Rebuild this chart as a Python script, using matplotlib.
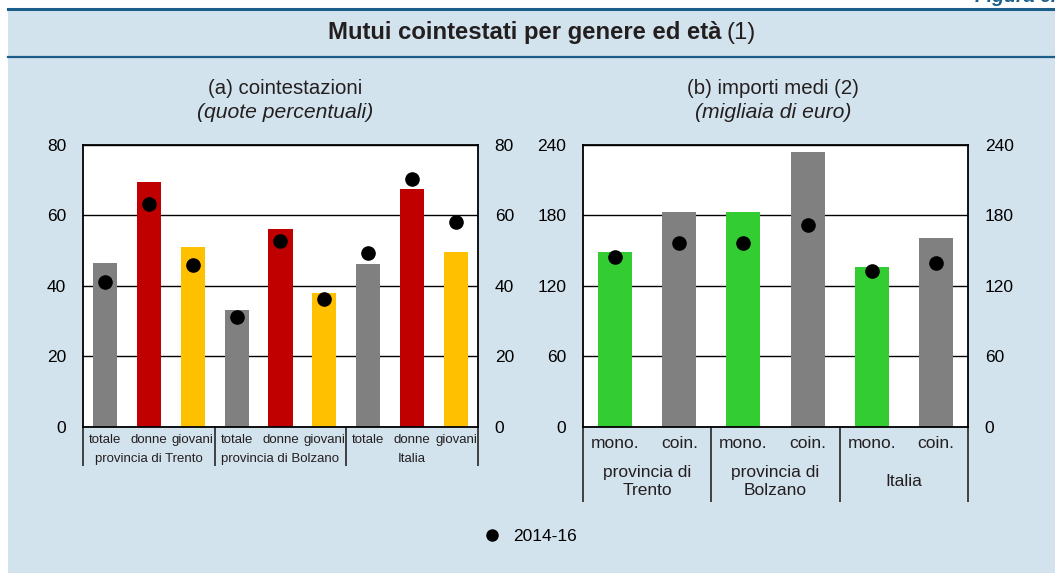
import matplotlib
matplotlib.use("Agg")
import matplotlib.pyplot as plt
from matplotlib.patches import Rectangle
from matplotlib.lines import Line2D

plt.rcParams['font.family'] = ['Liberation Sans', 'DejaVu Sans']

# panel (a): share of co-signed mortgages, per cent
quote_labels = ['totale', 'donne', 'giovani'] * 3
quote_groups = ['provincia di Trento', 'provincia di Bolzano', 'Italia']
quote_values = [46.4, 69.4, 51.0, 33.1, 56.1, 37.9, 46.1, 67.4, 49.6]
quote_2014_16 = [41.1, 63.2, 46.0, 31.2, 52.6, 36.2, 49.2, 70.4, 58.1]
quote_colors = ['#808080', '#C00000', '#FFC000'] * 3

# panel (b): average amounts, thousands of euro
importi_labels = ['mono.', 'coin.'] * 3
importi_groups = ['provincia di\nTrento', 'provincia di\nBolzano', 'Italia']
importi_values = [148.9, 182.8, 182.8, 233.8, 136.1, 160.8]
importi_2014_16 = [144.1, 156.0, 156.0, 171.8, 132.2, 139.5]
importi_colors = ['#33CC33', '#808080'] * 3

bg = '#D3E3ED'
navy = '#1B5E8A'
ink = '#231F20'
W, H = 1055, 573

fig = plt.figure(figsize=(W / 100, H / 100), dpi=100)
fig.patch.set_facecolor('white')

# light blue panel with the two dark rules of the header band
fig.add_artist(Rectangle((8 / W, 0), 1 - 8 / W, 1 - 8 / H, transform=fig.transFigure,
                         facecolor=bg, edgecolor='none', zorder=0))
fig.add_artist(Line2D([8 / W, 1], [1 - 8.5 / H] * 2, transform=fig.transFigure,
                      color=navy, linewidth=2.2))
fig.add_artist(Line2D([8 / W, 1], [1 - 56.5 / H] * 2, transform=fig.transFigure,
                      color=navy, linewidth=1.6))
fig.text(975 / W, 1 - 1.5 / H, 'Figura 6.', color=navy, fontsize=14, fontweight='bold',
         fontstyle='italic', ha='left', va='baseline')

fig.text(722 / W, 1 - 33 / H, 'Mutui cointestati per genere ed età', fontsize=17.2,
         fontweight='bold', ha='right', va='center', color=ink)
fig.text(727 / W, 1 - 33 / H, '(1)', fontsize=17.2, ha='left', va='center', color=ink)


def draw_panel(rect, values, dots, colors, labels, groups, ymax, step, width,
               lab_y, lab_size, grp_y, sep_y):
    ax = fig.add_axes(rect)
    ax.set_facecolor('white')
    x = list(range(len(values)))
    ax.bar(x, values, width=width, color=colors, zorder=2)
    ax.plot(x, dots, 'o', color='black', markersize=9.5, zorder=3, clip_on=False)
    ax.set_xlim(-0.5, len(values) - 0.5)
    ax.set_ylim(0, ymax)
    ax.set_yticks(range(0, ymax + 1, step))
    ax.yaxis.grid(True, color='black', linewidth=1)
    ax.set_axisbelow(True)
    ax.set_xticks([])
    ax.tick_params(axis='y', length=0, labelsize=12.5, labelright=True, pad=12)
    for sp in ax.spines.values():
        sp.set_linewidth(1.3)
        sp.set_color('black')

    # category labels under the axis, groups separated by vertical rules
    xt = ax.get_xaxis_transform()
    for xi, lab in zip(x, labels):
        ax.text(xi, lab_y, lab, transform=xt, ha='center', va='center',
                fontsize=lab_size, color=ink)
    n = len(values) // len(groups)
    for gi, g in enumerate(groups):
        ax.text(gi * n + (n - 1) / 2, grp_y, g, transform=xt, ha='center', va='center',
                fontsize=lab_size, color=ink, linespacing=1.25)
    seps = [gi * n - 0.5 for gi in range(len(groups) + 1)]
    ax.vlines(seps, sep_y, 0, transform=xt, color='#333333', linewidth=1.3, clip_on=False)
    return ax


axL = draw_panel([83 / W, 1 - 426.7 / H, 395 / W, 282 / H], quote_values, quote_2014_16,
                 quote_colors, quote_labels, quote_groups, 80, 20, 0.55,
                 -0.047, 9.5, -0.115, -0.139)
axR = draw_panel([583 / W, 1 - 426.7 / H, 385 / W, 282 / H], importi_values, importi_2014_16,
                 importi_colors, importi_labels, importi_groups, 240, 60, 0.53,
                 -0.061, 12.5, -0.195, -0.266)

for cx, t1, t2 in [(285, '(a) cointestazioni', '(quote percentuali)'),
                   (773, '(b) importi medi (2)', '(migliaia di euro)')]:
    fig.text(cx / W, 1 - 88 / H, t1, fontsize=14.7, ha='center', va='center', color=ink)
    fig.text(cx / W, 1 - 113 / H, t2, fontsize=15.2, fontstyle='italic', ha='center',
             va='center', color=ink)

handle = Line2D([], [], marker='o', linestyle='', color='black', markersize=8)
fig.legend([handle], ['2014-16'], loc='center', bbox_to_anchor=(530 / W, 1 - 536 / H),
           frameon=False, fontsize=12.5, handletextpad=0.7, handlelength=1.0)

fig.savefig('out.png', dpi=100, facecolor=fig.get_facecolor())
